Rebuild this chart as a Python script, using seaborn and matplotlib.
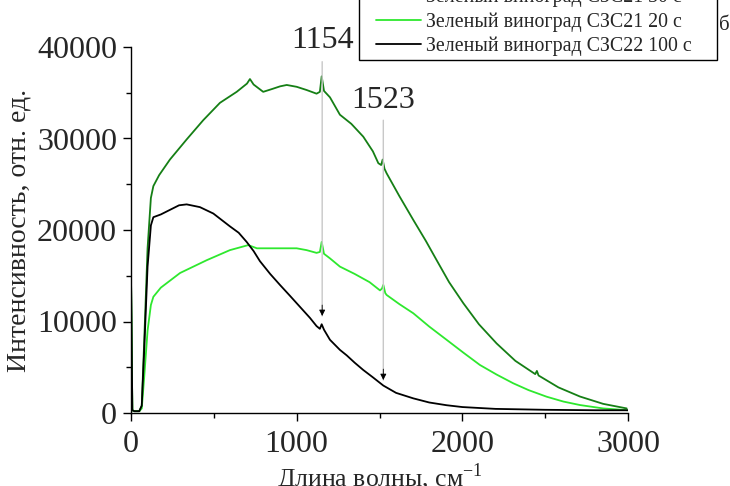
import pandas as pd
import seaborn as sns
import matplotlib.pyplot as plt
from matplotlib.ticker import MultipleLocator
from matplotlib.patches import Rectangle

# спектры, значения
x_30 = [0, 8, 20, 50, 65, 80, 100, 120, 135, 170, 235, 336, 436, 537, 638, 700, 718, 740, 798, 850,
        900, 940, 1000, 1060, 1120, 1140, 1151, 1165, 1201, 1261, 1330, 1402, 1460, 1493, 1510, 1519,
        1530, 1543, 1620, 1704, 1780, 1845, 1920, 2006, 2100, 2207, 2320, 2440, 2450, 2460, 2580,
        2710, 2850, 2992]
y_30 = [15000, 300, 200, 200, 800, 8000, 18000, 23500, 24800, 26000, 27700, 29900, 32000, 33900,
        35100, 36000, 36500, 35900, 35100, 35400, 35700, 35850, 35650, 35300, 34900, 35100, 36800,
        35200, 34500, 32600, 31600, 30200, 28600, 27300, 27100, 27700, 26700, 26200, 23700, 21100,
        18800, 16700, 14300, 12000, 9700, 7600, 5700, 4250, 4600, 4100, 2800, 1800, 1000, 500]

x_20 = [0, 8, 20, 50, 65, 80, 100, 120, 135, 180, 296, 457, 597, 708, 760, 839, 900, 1000, 1060,
        1120, 1140, 1151, 1165, 1201, 1261, 1350, 1440, 1503, 1515, 1523, 1535, 1543, 1620, 1704,
        1800, 1905, 2006, 2106, 2207, 2307, 2400, 2509, 2610, 2710, 2850, 3000]
y_20 = [15000, 300, 200, 200, 500, 4000, 9000, 11800, 12700, 13700, 15300, 16700, 17800, 18350,
        18000, 18000, 18000, 18000, 17800, 17500, 17600, 18700, 17400, 16900, 16000, 15200, 14300,
        13400, 13600, 14000, 13100, 12900, 11900, 10900, 9450, 8000, 6600, 5250, 4200, 3250, 2500,
        1780, 1250, 870, 500, 300]

x_100 = [0, 8, 20, 50, 65, 80, 100, 120, 135, 180, 235, 290, 336, 416, 497, 597, 650, 698, 740,
         778, 840, 899, 960, 1020, 1080, 1120, 1140, 1151, 1165, 1201, 1261, 1302, 1350, 1402, 1460,
         1523, 1600, 1704, 1800, 1905, 2000, 2200, 2500, 2800, 3000]
y_100 = [15000, 300, 200, 200, 800, 7000, 16000, 20500, 21400, 21700, 22200, 22700, 22800, 22500,
         21800, 20400, 19700, 18700, 17700, 16600, 15200, 14000, 12800, 11600, 10400, 9500, 9200,
         9700, 9100, 8000, 6900, 6300, 5500, 4700, 3900, 3000, 2200, 1600, 1150, 850, 650, 450, 350,
         300, 300]

labels = ['Зеленый виноград СЗС21 30 с', 'Зеленый виноград СЗС21 20 с', 'Зеленый виноград СЗС22 100 с']
colors = ['#157f15', '#2ee82e', '#000000']

# пики: положение, высота стрелки, куда подписать
peaks = [1154, 1523]
peak_tips = [10300, 3300]
peak_tops = [38700, 32300]
peak_text_y = [40700, 34200]

sns.set_style('ticks')
plt.rcParams['font.family'] = ['Liberation Serif', 'DejaVu Serif']
plt.rcParams['mathtext.fontset'] = 'custom'
plt.rcParams['mathtext.rm'] = 'Liberation Serif'

fig = plt.figure(figsize=(7.3, 4.86), dpi=100)
ax = fig.add_axes([131 / 730, 73 / 486, 497 / 730, 366 / 486])

for xs, ys, lab, c in zip([x_30, x_20, x_100], [y_30, y_20, y_100], labels, colors):
    sns.lineplot(x=xs, y=ys, ax=ax, color=c, label=lab, lw=1.3, sort=False)

for p, tip, top, ty in zip(peaks, peak_tips, peak_tops, peak_text_y):
    ax.annotate('', xy=(p, tip), xytext=(p, top),
                arrowprops=dict(arrowstyle='-', color='#c8c8c8', lw=1))
    ax.annotate('', xy=(p, tip), xytext=(p, tip + 1800),
                arrowprops=dict(arrowstyle='-|>', color='black', lw=0.6, mutation_scale=9))
    ax.text(p, ty, str(p), ha='center', va='center', fontsize=23, clip_on=False)

ax.set_xlim(0, 3000)
ax.set_ylim(0, 40000)
ax.set_xticks([0, 1000, 2000, 3000])
ax.set_yticks([0, 10000, 20000, 30000, 40000])
ax.xaxis.set_minor_locator(MultipleLocator(500))
ax.yaxis.set_minor_locator(MultipleLocator(5000))
ax.tick_params(which='major', direction='out', length=6, width=1, labelsize=23, color='black')
ax.tick_params(which='minor', direction='out', length=3.5, width=1, color='black')
ax.tick_params(axis='y', pad=4)
ax.tick_params(axis='x', pad=6)
sns.despine(ax=ax)
for s in ['left', 'bottom']:
    ax.spines[s].set_color('black')
    ax.spines[s].set_linewidth(1)

ax.set_xlabel('Длина волны, см$^{-1}$', fontsize=18.5, labelpad=2)
ax.set_ylabel('Интенсивность, отн. ед.', fontsize=20, labelpad=4)

# легенда: рамка уходит за верхний край, как в оригинале
handles, labs = ax.get_legend_handles_labels()
ax.get_legend().remove()
fig.patches.append(Rectangle((359 / 730, 1 - 60 / 486), 358 / 730, 80 / 486,
                             transform=fig.transFigure, facecolor='white',
                             edgecolor='black', lw=1, zorder=4))
leg = fig.legend(handles, labs, loc='lower left', bbox_to_anchor=(376 / 730, 1 - 56 / 486),
                 borderaxespad=0, borderpad=0, fontsize=14.3, frameon=False,
                 handlelength=2.26, handletextpad=0.25, labelspacing=0.25)
leg.set_zorder(5)

fig.text(724 / 730, 1 - 25 / 486, 'б', fontsize=15, ha='center', va='center', zorder=6)

plt.savefig('out.png', dpi=100)
